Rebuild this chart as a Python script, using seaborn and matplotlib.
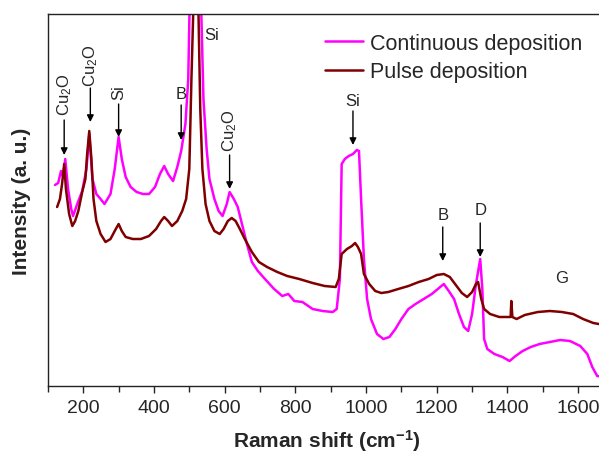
import matplotlib
matplotlib.use("Agg")
from matplotlib import pyplot as plt
import seaborn as sns
import pandas as pd

# Raman spectra (intensity in arbitrary units)
cont_shift = [120, 129, 137, 143, 149, 157, 166, 171, 183, 197, 209, 217, 226, 237, 249,
              260, 277, 289, 300, 309, 320, 334, 351, 369, 386, 403, 417, 429, 440, 454,
              466, 477, 489, 497, 503, 515, 528, 534, 540, 549, 557, 571, 583, 594, 606,
              614, 626, 637, 649, 663, 677, 694, 714, 740, 763, 780, 797, 820, 849, 877,
              906, 917, 926, 931, 940, 951, 963, 974, 980, 986, 994, 1003, 1014, 1031,
              1049, 1066, 1083, 1100, 1120, 1140, 1163, 1186, 1203, 1220, 1234, 1249,
              1263, 1277, 1289, 1300, 1311, 1323, 1329, 1334, 1343, 1363, 1386, 1406,
              1423, 1443, 1466, 1491, 1520, 1549, 1577, 1606, 1626, 1640, 1654, 1674]
cont_int = [201, 203, 215, 209, 227, 197, 177, 170, 182, 195, 217, 252, 207, 192, 187,
            182, 192, 217, 249, 227, 209, 199, 194, 192, 192, 199, 212, 220, 212, 205,
            219, 235, 262, 307, 420, 700, 430, 372, 287, 237, 207, 187, 175, 170, 182,
            194, 187, 179, 162, 142, 124, 115, 107, 97, 90, 92, 85, 84, 77, 75,
            74, 77, 107, 222, 227, 230, 232, 236, 235, 187, 127, 87, 67, 52,
            47, 49, 57, 67, 77, 82, 87, 92, 97, 102, 95, 87,
            72, 59, 55, 72, 102, 127, 97, 47, 37, 32, 29, 25,
            30, 35, 39, 42, 44, 46, 45, 40, 32, 19, 10, 9]

pulse_shift = [126, 134, 140, 146, 151, 160, 169, 177, 186, 197, 206, 211, 217, 223, 229,
               237, 249, 263, 277, 289, 300, 309, 320, 340, 363, 386, 406, 420, 429, 440,
               451, 466, 480, 491, 500, 506, 511, 517, 526, 531, 537, 546, 557, 571, 586,
               597, 609, 620, 631, 643, 657, 677, 697, 720, 749, 777, 811, 849, 883, 914,
               923, 931, 946, 960, 969, 977, 986, 994, 1009, 1026, 1043, 1063, 1091, 1120,
               1149, 1177, 1200, 1220, 1237, 1254, 1271, 1286, 1300, 1311, 1317, 1326,
               1334, 1351, 1377, 1400, 1409, 1411, 1414, 1426, 1449, 1486, 1520, 1554,
               1586, 1614, 1643, 1674]
pulse_int = [179, 187, 202, 222, 197, 172, 160, 165, 175, 194, 207, 232, 255, 227, 187,
             165, 152, 144, 147, 155, 162, 155, 149, 147, 147, 150, 157, 165, 169, 165,
             160, 165, 175, 187, 217, 307, 372, 650, 372, 277, 217, 182, 165, 155, 152,
             157, 165, 168, 165, 157, 147, 134, 124, 119, 114, 110, 107, 103, 100, 99,
             107, 132, 137, 140, 143, 139, 132, 112, 102, 95, 93, 94, 97, 100,
             104, 107, 111, 112, 109, 101, 93, 89, 94, 102, 104, 87,
             77, 72, 69, 69, 69, 85, 69, 67, 71, 74, 75, 74,
             72, 67, 63, 61]

# peak labels: (text, x, text_y, arrow_tail_y, arrow_head_y, rotated)
peaks = [
    ("Cu$_2$O", 146, 271, 266, 231, True),
    ("Cu$_2$O", 220, 300, 298, 264, True),
    ("Si", 300, 287, 282, 249, True),
    ("B", 477, 285, 281, 246, False),
    ("Cu$_2$O", 614, 235, 231, 197, True),
    ("Si", 963, 278, 275, 241, False),
    ("B", 1217, 164, 159, 125, False),
    ("D", 1323, 169, 163, 129, False),
]

sns.set_style("white")
plt.rcParams["font.family"] = ["Liberation Sans", "DejaVu Sans"]
plt.rcParams["mathtext.fontset"] = "custom"
plt.rcParams["mathtext.rm"] = "Liberation Sans"
plt.rcParams["mathtext.it"] = "Liberation Sans:italic"
plt.rcParams["mathtext.bf"] = "Liberation Sans:bold"

df = pd.concat([
    pd.DataFrame({"shift": cont_shift, "intensity": cont_int, "sample": "Continuous deposition"}),
    pd.DataFrame({"shift": pulse_shift, "intensity": pulse_int, "sample": "Pulse deposition"}),
])

fig = plt.figure(figsize=(5.99, 4.52), dpi=100)
ax = fig.add_axes([0.080, 0.1438, 0.93, 0.823])

sns.lineplot(
    data=df, x="shift", y="intensity", hue="sample", sort=False,
    palette={"Continuous deposition": "#ff00ff", "Pulse deposition": "#800000"},
    linewidth=1.8, ax=ax,
)

for label, x, ty, tail, head, rot in peaks:
    ax.annotate("", xy=(x, head), xytext=(x, tail),
                arrowprops=dict(arrowstyle="-|>", color="black", lw=1,
                                mutation_scale=10, shrinkA=0, shrinkB=0))
    ax.text(x, ty, label, rotation=90 if rot else 0, ha="center", va="bottom",
            fontsize=12)
ax.text(543, 352, "Si", ha="left", va="center", fontsize=12)
ax.text(1554, 109, "G", ha="center", va="center", fontsize=12)

ax.set_xlim(100, 1676)
ax.set_ylim(0, 372)
ax.set_xticks(range(200, 1601, 200))
ax.set_xticks(range(100, 1676, 100), minor=True)
ax.set_yticks([])
ax.tick_params(axis="x", which="major", direction="out", length=5, width=1,
               labelsize=14, bottom=True, pad=4)
ax.tick_params(axis="x", which="minor", direction="out", length=4, width=1, bottom=True)
for side in ["left", "bottom", "top"]:
    ax.spines[side].set_color("#222222")
    ax.spines[side].set_linewidth(1)
ax.spines["right"].set_visible(False)

ax.set_xlabel(r"Raman shift (cm$^{\mathbf{-1}}$)", fontsize=15, fontweight="bold", labelpad=8)
ax.set_ylabel("Intensity (a. u.)", fontsize=15, fontweight="bold", labelpad=12)

ax.legend(loc="upper left", bbox_to_anchor=(0.475, 0.985), frameon=False, fontsize=15.5,
          handlelength=1.75, handletextpad=0.3, labelspacing=0.35, borderaxespad=0.2)

fig.savefig("out.png", dpi=100)
